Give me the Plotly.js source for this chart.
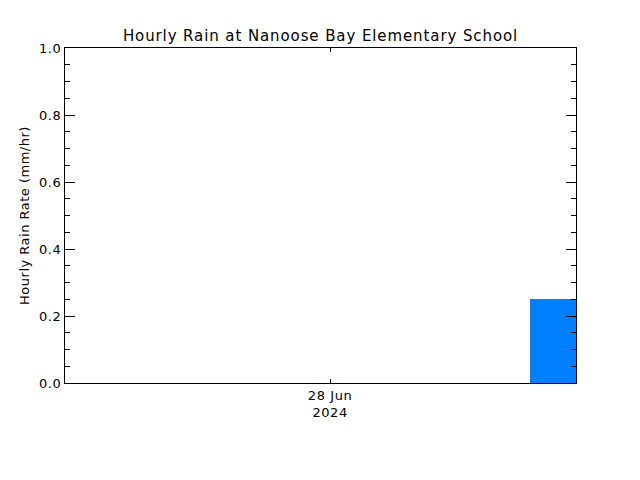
<!DOCTYPE html>
<html>
<head>
<meta charset="utf-8">
<script src="https://cdn.plot.ly/plotly-3.0.1.min.js"></script>
<style>
  html, body { margin: 0; padding: 0; background: #fff; }
  #chart { width: 640px; height: 480px; }
  /* the original uses a wide-spaced vector font */
  #chart .gtitle { letter-spacing: 0.9px; }
  #chart .ytitle { letter-spacing: 0.5px; }
  #chart .xtick text, #chart .ytick text { letter-spacing: 0.6px; }
</style>
</head>
<body>
<div id="chart"></div>
<script>
// hourly bars: center time of each hour, rain rate in mm/hr
var hourTimes = ['2024-06-28 04:50'];
var rainRates = [0.25];

var xRange = ['2024-06-27 18:15', '2024-06-28 05:20'];
var xTickVals = ['2024-06-28 00:00'];
var xTickText = ['28 Jun<br>2024'];
var yTickVals = [0, 0.2, 0.4, 0.6, 0.8, 1.0];
var yTickText = ['0.0', '0.2', '0.4', '0.6', '0.8', '1.0'];

var fontFamily = 'DejaVu Sans, sans-serif';

var trace = {
  type: 'bar',
  x: hourTimes,
  y: rainRates,
  width: hourTimes.map(function() { return 3600000; }),
  marker: { color: '#0080ff', line: { width: 0 } },
  hoverinfo: 'x+y',
};

var axisBase = {
  showline: true,
  linecolor: '#000',
  linewidth: 1,
  mirror: 'allticks',
  ticks: 'inside',
  tickcolor: '#000',
  tickwidth: 1,
  showgrid: false,
  zeroline: false,
  tickfont: { family: fontFamily, size: 13, color: '#000' },
};

var layout = {
  width: 640,
  height: 480,
  margin: { l: 65, r: 64, t: 48, b: 97 },
  paper_bgcolor: '#fff',
  plot_bgcolor: '#fff',
  font: { family: fontFamily, color: '#000' },
  showlegend: false,
  bargap: 0,
  title: {
    text: 'Hourly Rain at Nanoose Bay Elementary School',
    font: { family: fontFamily, size: 15, color: '#000' },
    x: 0.5,
    xref: 'paper',
    y: 1 - 36 / 480,
    yref: 'container',
    yanchor: 'middle',
  },
  xaxis: Object.assign({}, axisBase, {
    type: 'date',
    range: xRange,
    tickmode: 'array',
    tickvals: xTickVals,
    ticktext: xTickText,
    ticklen: 4,
  }),
  yaxis: Object.assign({}, axisBase, {
    range: [0, 1],
    tickmode: 'array',
    tickvals: yTickVals,
    ticktext: yTickText,
    ticklen: 10,
    minor: { dtick: 0.05, ticks: 'inside', ticklen: 5, tickcolor: '#000', tickwidth: 1, showgrid: false },
    title: {
      text: 'Hourly Rain Rate (mm/hr)',
      font: { family: fontFamily, size: 13, color: '#000' },
      standoff: 8,
    },
  }),
};

Plotly.newPlot('chart', [trace], layout, { staticPlot: true, displayModeBar: false });
</script>
</body>
</html>
